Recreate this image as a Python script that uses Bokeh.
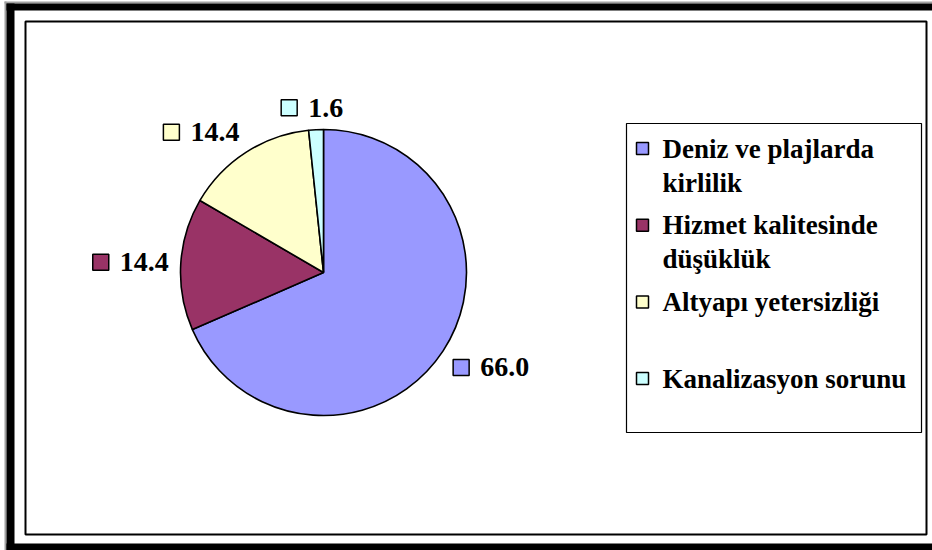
import math
from bokeh.plotting import figure
from bokeh.models import Range1d, ColumnDataSource
from bokeh.core.properties import value
from bokeh.embed import file_html
from bokeh.resources import INLINE

# ---------------- data ----------------
categories = ["Deniz ve plajlarda kirlilik", "Hizmet kalitesinde düşüklük",
              "Altyapı yetersizliği", "Kanalizasyon sorunu"]
legend_lines = [["Deniz ve plajlarda", "kirlilik"],
                ["Hizmet kalitesinde", "düşüklük"],
                ["Altyapı yetersizliği"],
                ["Kanalizasyon sorunu"]]
values = [66.0, 14.4, 14.4, 1.6]
colors = ["#9999FF", "#993366", "#FFFFCC", "#CCFFFF"]

# ---------------- layout helpers ----------------
W, H = 932, 550


def Y(page_y):
    return H - page_y


FONT = value("Liberation Serif")
p = figure(width=W, height=H, output_backend="svg", toolbar_location=None,
           x_range=Range1d(0, W), y_range=Range1d(0, H),
           x_axis_type=None, y_axis_type=None, min_border=0)
p.outline_line_color = None
p.grid.visible = False
p.background_fill_color = "white"
p.border_fill_color = "white"

# outer black frame (top, left, bottom bands) and inner thin border
p.quad(left=4, right=W, top=Y(1), bottom=Y(3), fill_color="#a0a0a0", line_color=None)
p.quad(left=4, right=6, top=Y(1), bottom=Y(H), fill_color="#a0a0a0", line_color=None)
p.quad(left=6, right=W, top=Y(3), bottom=Y(10), fill_color="black", line_color=None)
p.quad(left=6, right=14, top=Y(3), bottom=Y(H), fill_color="black", line_color=None)
p.quad(left=6, right=W, top=Y(543), bottom=Y(H), fill_color="black", line_color=None)
p.quad(left=25, right=926, top=Y(21), bottom=Y(534), fill_color=None,
       line_color="black", line_width=2)

# ---------------- pie ----------------
cx, cy, R = 323, Y(272), 143
total = sum(values)
starts, ends, mids = [], [], []
cum = 0.0
for v in values:
    a0 = math.pi / 2 - cum / total * 2 * math.pi
    a1 = math.pi / 2 - (cum + v) / total * 2 * math.pi
    starts.append(a0)
    ends.append(a1)
    mids.append((a0 + a1) / 2)
    cum += v

src = ColumnDataSource(dict(start=starts, end=ends, color=colors, cat=categories, val=values))
p.wedge(x=cx, y=cy, radius=R, start_angle="start", end_angle="end", direction="clock",
        fill_color="color", line_color="black", line_width=1.6, source=src)

# ---------------- data labels ----------------
lab_fs = 28
sq = 16
gap = 11
char_w = {".": 0.25}
lab_text = [f"{v:.1f}" for v in values]
sqx, sqy, tx, ty = [], [], [], []
for a, t in zip(mids, lab_text):
    tw = sum(char_w.get(c, 0.5) for c in t) * lab_fs
    bw = sq + gap + tw
    bh = 20
    dx, dy = math.cos(a), math.sin(a)
    px, py = cx + (R + 12) * dx, cy + (R + 12) * dy
    ox = max(-1, min(1, 2 * dx)) * bw / 2
    oy = max(-1, min(1, 2 * dy)) * bh / 2
    lx, ly = px + ox, py + oy
    left = lx - bw / 2
    sqx.append(left + sq / 2)
    sqy.append(ly)
    tx.append(left + sq + gap)
    ty.append(ly)

p.rect(x=sqx, y=sqy, width=sq, height=sq, fill_color=colors, line_color="black", line_width=1.5)
p.text(x=tx, y=ty, text=lab_text, text_font=FONT, text_font_style="bold",
       text_font_size=f"{lab_fs}px", text_baseline="middle", text_align="left",
       text_color="black")

# ---------------- legend ----------------
p.quad(left=626, right=921, top=Y(123), bottom=Y(432), fill_color="white",
       line_color="black", line_width=1.2)
leg_fs = 27
first_y = 148
step = 76.7
line_h = 34
lsx, lsy, ltx, lty, ltext = [], [], [], [], []
for i, lines in enumerate(legend_lines):
    yy = first_y + i * step
    lsx.append(642)
    lsy.append(Y(yy))
    for j, ln in enumerate(lines):
        ltx.append(662)
        lty.append(Y(yy + j * line_h))
        ltext.append(ln)
p.rect(x=lsx, y=lsy, width=12, height=12, fill_color=colors, line_color="black", line_width=1.5)
p.text(x=ltx, y=lty, text=ltext, text_font=FONT, text_font_style="bold",
       text_font_size=f"{leg_fs}px", text_baseline="middle", text_align="left",
       text_color="black")

open("out.html", "w").write(file_html(p, INLINE))
